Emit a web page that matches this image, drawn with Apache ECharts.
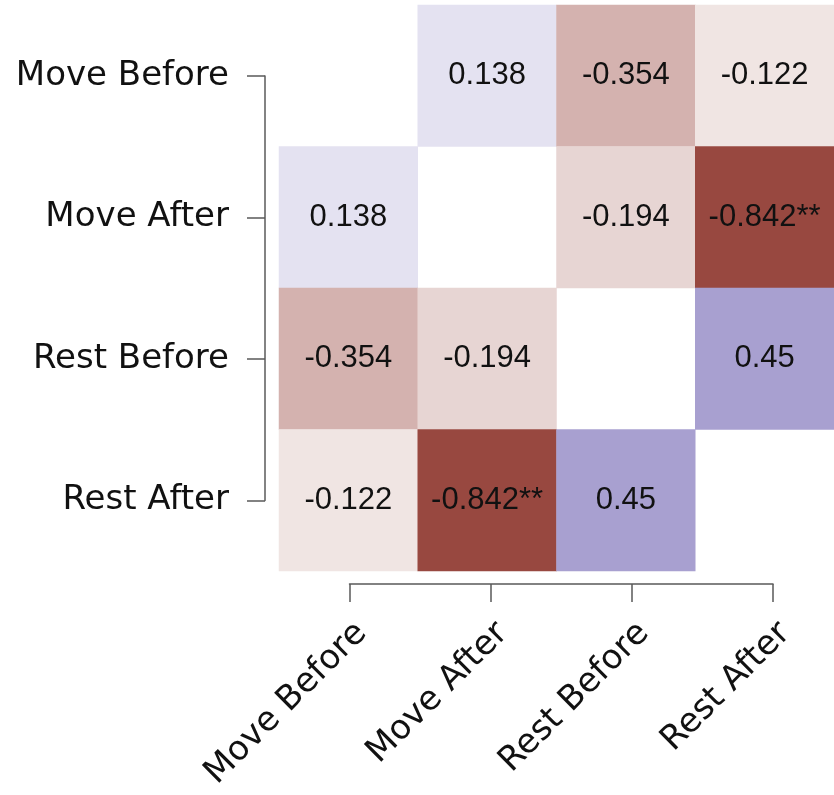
<!DOCTYPE html>
<html>
<head>
<meta charset="utf-8">
<script src="https://cdn.jsdelivr.net/npm/echarts@6/dist/echarts.min.js"></script>
<style>
  html, body { margin: 0; padding: 0; background: #ffffff; }
  #chart { width: 834px; height: 795px; }
</style>
</head>
<body>
<div id="chart"></div>
<script>
// Variables of the correlation matrix, in row / column order
const variables = ['Move Before', 'Move After', 'Rest Before', 'Rest After'];

// Pearson correlations; diagonal left blank
const rowMoveBefore = [null, 0.138, -0.354, -0.122];
const rowMoveAfter  = [0.138, null, -0.194, -0.842];
const rowRestBefore = [-0.354, -0.194, null, 0.45];
const rowRestAfter  = [-0.122, -0.842, 0.45, null];

// Significance stars for each cell
const starsMoveBefore = ['', '', '', ''];
const starsMoveAfter  = ['', '', '', '**'];
const starsRestBefore = ['', '', '', ''];
const starsRestAfter  = ['', '**', '', ''];

const matrix = [rowMoveBefore, rowMoveAfter, rowRestBefore, rowRestAfter];
const stars = [starsMoveBefore, starsMoveAfter, starsRestBefore, starsRestAfter];

const cells = [];
matrix.forEach((row, r) => {
  row.forEach((v, c) => {
    if (v !== null) cells.push({ value: [c, r, v], stars: stars[r][c] });
  });
});

const axisGrey = '#5a5a5a';
const labelFont = 'DejaVu Sans';

const chart = echarts.init(document.getElementById('chart'), null, { renderer: 'canvas' });
chart.setOption({
  backgroundColor: '#ffffff',
  animation: false,
  grid: [
    // heatmap cells
    { left: 279, top: 5, width: 565, height: 566 },
    // axes running between the first and last cell centres
    { left: 349.5, top: 76, width: 423.5, height: 424.5 }
  ],
  xAxis: [
    { type: 'category', gridIndex: 0, data: variables, show: false },
    {
      type: 'category', gridIndex: 1, data: variables, boundaryGap: false,
      position: 'bottom', offset: 83.5,
      axisLine: { show: true, lineStyle: { color: axisGrey, width: 1.5 } },
      axisTick: { show: true, length: 18, lineStyle: { color: axisGrey, width: 1.5 } },
      axisLabel: {
        rotate: 45, margin: 32, interval: 0, verticalAlign: 'top',
        fontFamily: labelFont, fontSize: 34, color: '#111'
      },
      splitLine: { show: false }
    }
  ],
  yAxis: [
    { type: 'category', gridIndex: 0, data: variables, inverse: true, show: false },
    {
      type: 'category', gridIndex: 1, data: variables, boundaryGap: false, inverse: true,
      position: 'left', offset: 84.5,
      axisLine: { show: true, lineStyle: { color: axisGrey, width: 1.5 } },
      axisTick: { show: true, length: 18, lineStyle: { color: axisGrey, width: 1.5 } },
      axisLabel: {
        margin: 36, interval: 0,
        fontFamily: labelFont, fontSize: 34, color: '#111'
      },
      splitLine: { show: false }
    }
  ],
  visualMap: {
    type: 'continuous', show: false, min: -1, max: 1, dimension: 2,
    seriesIndex: 0,
    inRange: { color: ['#85261c', '#ffffff', '#3e2c97'] }
  },
  series: [{
    type: 'heatmap',
    xAxisIndex: 0, yAxisIndex: 0,
    data: cells,
    label: {
      show: true,
      fontFamily: 'Liberation Sans', fontSize: 31, color: '#111',
      formatter: p => String(p.data.value[2]) + p.data.stars
    },
    itemStyle: { borderWidth: 0 },
    emphasis: { disabled: true }
  }]
});
</script>
</body>
</html>
